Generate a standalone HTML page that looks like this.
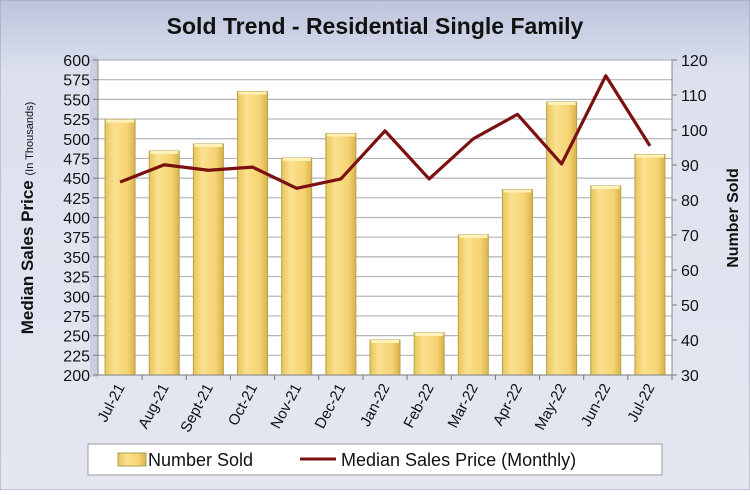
<!DOCTYPE html>
<html><head><meta charset="utf-8"><style>
body{margin:0;width:750px;height:490px;overflow:hidden;font-family:"Liberation Sans",sans-serif;}
</style></head><body>
<svg id="c" width="750" height="490" xmlns="http://www.w3.org/2000/svg">
<defs>
<linearGradient id="bg" x1="0" y1="0" x2="0" y2="1"><stop offset="0" stop-color="#bcc4dc"/><stop offset="0.15" stop-color="#dde1ee"/><stop offset="1" stop-color="#e4e7f1"/></linearGradient>
<linearGradient id="bar" x1="0" y1="0" x2="1" y2="0"><stop offset="0" stop-color="#e8c65a"/><stop offset="0.3" stop-color="#fbe090"/><stop offset="0.75" stop-color="#f5d372"/><stop offset="1" stop-color="#d9b24a"/></linearGradient>
</defs>
<rect x="0" y="0" width="750" height="490" fill="url(#bg)" stroke="#9aa0b0"/>
<text x="375" y="34" text-anchor="middle" font-size="23" font-weight="bold" fill="#111">Sold Trend - Residential Single Family</text>
<rect x="90" y="55" width="8" height="322" fill="#c9cfe0"/>
<rect x="98" y="60" width="574" height="315" fill="#fff"/>
<g id="grid"></g><g id="bars"></g><g id="line"></g><g id="axes"></g>
<text transform="translate(33,218) rotate(-90)" text-anchor="middle" font-size="17" font-weight="bold" fill="#111">Median Sales Price <tspan font-size="11" font-weight="normal">(In Thousands)</tspan></text>
<text transform="translate(738,218) rotate(-90)" text-anchor="middle" font-size="16" font-weight="bold" fill="#111">Number Sold</text>
<rect x="88" y="444" width="574" height="31" fill="#fff" stroke="#999"/>
<g><rect x="118" y="453" width="28" height="13" fill="url(#bar)" stroke="#a8a050"/><text x="148" y="466" font-size="18" fill="#111">Number Sold</text></g>
<g><line x1="300" y1="459" x2="336" y2="459" stroke="#7b1010" stroke-width="3"/><text x="341" y="466" font-size="18" fill="#111">Median Sales Price (Monthly)</text></g>
</svg>
<script>
const categories=["Jul-21","Aug-21","Sept-21","Oct-21","Nov-21","Dec-21","Jan-22","Feb-22","Mar-22","Apr-22","May-22","Jun-22","Jul-22"];
const numberSold=[103,94,96,111,92,99,40,42,70,83,108,84,93];
const medianPrice=[445,467,460,464,437,449,510,449,500,531,468,580,491];
const leftTicks=[200,225,250,275,300,325,350,375,400,425,450,475,500,525,550,575,600];
const rightTicks=[30,40,50,60,70,80,90,100,110,120];
const NS="http://www.w3.org/2000/svg";
const X0=98,X1=672,Y0=60,Y1=375;
const slot=(X1-X0)/categories.length;
const xc=i=>X0+slot*(i+0.5);
const yL=v=>Y1-(v-200)/400*(Y1-Y0);
const yR=v=>Y1-(v-30)/90*(Y1-Y0);
function mk(tag,attrs,parent){const e=document.createElementNS(NS,tag);for(const k in attrs)e.setAttribute(k,attrs[k]);document.getElementById(parent).appendChild(e);return e;}
leftTicks.forEach(t=>{
  const y=yL(t);
  const g=mk("line",{x1:X0,x2:X1,y1:y,y2:y,stroke:"#b4b4b4","stroke-width":1.2},"grid");
  
  
  mk("line",{x1:X0-5,x2:X0,y1:y,y2:y,stroke:"#777"},"axes");
  const tx=mk("text",{x:X0-8,y:y+6,"text-anchor":"end","font-size":16,fill:"#111"},"axes");
  tx.textContent=t;
  
  
});
rightTicks.forEach(t=>{
  const y=yR(t);
  mk("line",{x1:X1,x2:X1+5,y1:y,y2:y,stroke:"#777"},"axes");
  const tx=mk("text",{x:X1+9,y:y+6,"font-size":16,fill:"#111"},"axes");
  tx.textContent=t;
  
  
});
mk("line",{x1:X0,x2:X0,y1:Y0,y2:Y1,stroke:"#888"},"axes");
mk("line",{x1:X1,x2:X1,y1:Y0,y2:Y1,stroke:"#888"},"axes");
mk("line",{x1:X0,x2:X1,y1:Y1,y2:Y1,stroke:"#888"},"axes");
categories.forEach((c,i)=>{
  const x=xc(i),y=yR(numberSold[i]),w=30;
  const b=mk("rect",{x:x-w/2,y:y,width:w,height:Y1-y,fill:"url(#bar)",stroke:"#b5a24a","stroke-width":1},"bars");
  
  
  mk("rect",{x:x-w/2+1,y:y,width:w-2,height:3,fill:"#fff2b8"},"bars");
  mk("line",{x1:X0+slot*(i+1),x2:X0+slot*(i+1),y1:Y1,y2:Y1+5,stroke:"#777"},"axes");
  const tx=mk("text",{transform:`translate(${x+5},${Y1+12}) rotate(-62)`,"text-anchor":"end","font-size":15,fill:"#111"},"axes");
  tx.textContent=c;
  
  
});
const pts=medianPrice.map((v,i)=>xc(i)+","+yL(v)).join(" ");
const pl=mk("polyline",{points:pts,fill:"none",stroke:"#7b1010","stroke-width":3.2,"stroke-linejoin":"round"},"line");


</script>
</body></html>
